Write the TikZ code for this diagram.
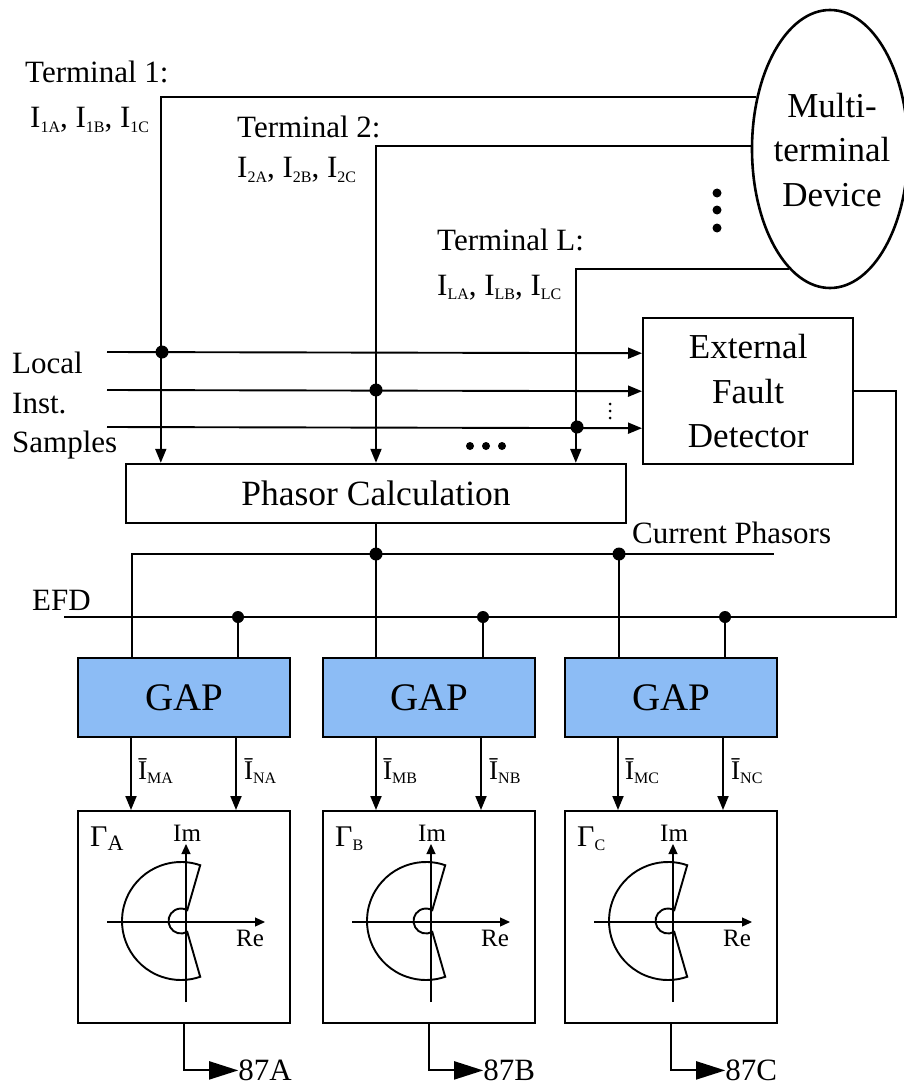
\documentclass[tikz,border=0pt]{standalone}
\usepackage{fontspec}
\setmainfont{Liberation Serif}
\usetikzlibrary{arrows.meta,shapes.geometric,calc}
\definecolor{gapblue}{RGB}{140,188,245}
\newcommand\sbs[1]{\raisebox{-0.3ex}{\fontsize{16}{16}\selectfont #1}}
\begin{document}
\begin{tikzpicture}[x=1pt,y=1pt,
  ln/.style={line width=1.9pt},
  arr/.style={ln,-{Triangle[length=14pt,width=11pt]}},
  bigarr/.style={ln,-{Triangle[length=29pt,width=18pt]}},
  axarr/.style={line width=1.2pt,-{Triangle[length=10pt,width=9pt]}},
  box/.style={draw,line width=2.4pt,inner sep=0pt},
  gapbox/.style={box,fill=gapblue,minimum width=212pt,minimum height=79pt,anchor=north west,font=\fontsize{39}{44}\selectfont},
  gambox/.style={box,minimum width=212pt,minimum height=212pt,anchor=north west},
  dot/.style={circle,fill,inner sep=0pt,minimum size=13pt},
  sdot/.style={circle,fill,inner sep=0pt,minimum size=9pt},
  tdot/.style={circle,fill,inner sep=0pt,minimum size=3pt},
  lbl/.style={inner sep=0pt,anchor=base west,font=\fontsize{31}{37}\selectfont},
  blbl/.style={inner sep=0pt,anchor=base west,font=\fontsize{27}{30}\selectfont},
  albl/.style={inner sep=0pt,anchor=base west,font=\fontsize{25}{30}\selectfont},
  glbl/.style={inner sep=0pt,anchor=base west,font=\fontsize{30}{34}\selectfont},
  big/.style={font=\fontsize{35}{44.5}\selectfont,align=center},
]
\useasboundingbox (0,0) rectangle (904,-1086);

% multi-terminal device
\node[draw,ellipse,line width=2.6pt,minimum width=156pt,minimum height=278pt,inner sep=0pt] (dev) at (830,-149) {};
\node[big,inner sep=0pt] (devtxt) at (832,-150) {Multi-\\terminal\\Device};
\node[sdot] (vd1) at (717,-193) {};
\node[sdot] (vd2) at (717,-210) {};
\node[sdot] (vd3) at (717,-228) {};

% terminal labels
\node[lbl] (tl1) at (25,-83) {Terminal 1:};
\node[lbl] (ti1) at (30,-128) {I\sbs{1A}, I\sbs{1B}, I\sbs{1C}};
\node[lbl] (tl2) at (237,-138) {Terminal 2:};
\node[lbl] (ti2) at (237,-178) {I\sbs{2A}, I\sbs{2B}, I\sbs{2C}};
\node[lbl] (tlL) at (437,-250) {Terminal L:};
\node[lbl] (tiL) at (437,-295) {I\sbs{LA}, I\sbs{LB}, I\sbs{LC}};

% boxes
\node[box,minimum width=500pt,minimum height=59pt,font=\fontsize{35.5}{40}\selectfont] (pc) at (376,-493.5) {Phasor Calculation};
\node[box,big,minimum width=210pt,minimum height=146pt,anchor=north west] (efd) at (642,-317) {External\\Fault\\Detector};

% local samples
\node[lbl] (loc1) at (12,-373) {Local};
\node[lbl] (loc2) at (12,-413) {Inst.};
\node[lbl] (loc3) at (12,-452) {Samples};
\coordinate (in1) at (107,-352);
\coordinate (in2) at (107,-390);
\coordinate (in3) at (107,-427);
\draw[arr] (in1) -- ([yshift=38pt]efd.west);
\draw[arr] (in2) -- (efd.west);
\draw[arr] (in3) -- ([yshift=-37pt]efd.west);

% terminal lines
\draw[arr] (dev.145) -| ([xshift=36pt]pc.north west);
\draw[arr] (dev.178.5) -| (pc.north);
\draw[arr] (dev.251.8) -| ([xshift=451pt]pc.north west);
\node[dot] (j1) at (162,-352) {};
\node[dot] (j2) at (376,-390) {};
\node[dot] (j3) at (577,-427) {};
\node[tdot] (s1) at (610,-404) {};
\node[tdot] (s2) at (610,-411) {};
\node[tdot] (s3) at (610,-418) {};
\node[sdot,minimum size=8pt] (h1) at (470,-446) {};
\node[sdot,minimum size=8pt] (h2) at (486,-446) {};
\node[sdot,minimum size=8pt] (h3) at (502,-446) {};

% GAP boxes
\node[gapbox] (gapA) at (77,-657) {GAP};
\node[gapbox] (gapB) at (322,-657) {GAP};
\node[gapbox] (gapC) at (564,-657) {GAP};

% current phasor bus
\coordinate (cpE) at (774,-554);
\node[lbl] (cptxt) at (632,-543) {Current Phasors};
\draw[ln] ([xshift=55pt]gapA.north west) |- (cpE);
\draw[ln] (pc.south) -- (pc.south |- gapB.north);
\draw[ln] ([xshift=55pt]gapC.north west) -- ++(0,103);
\node[dot] (bj1) at (376,-554) {};
\node[dot] (bj2) at (619,-554) {};

% EFD line
\coordinate (efdC) at (896,-617);
\coordinate (efdL) at (64,-617);
\node[lbl] (efdtxt) at (32,-610) {EFD};
\draw[ln] (efd.east) -| (efdC) -- (efdL);
\foreach \g in {A,B,C}{
  \draw[ln] ([xshift=161pt]gap\g.north west) -- ++(0,40);
  \node[dot,minimum size=12pt] (ej\g) at ([xshift=161pt,yshift=40pt]gap\g.north west) {};
}

% Gamma boxes
\node[gambox] (gamA) at (77,-810) {};
\node[gambox] (gamB) at (322,-810) {};
\node[gambox] (gamC) at (564,-810) {};

\foreach \g/\s/\f in {A/A/22,B/B/16,C/C/16}{
  \draw[arr] ([xshift=54pt]gap\g.south west) -- ([xshift=54pt]gam\g.north west);
  \draw[arr] ([xshift=159pt]gap\g.south west) -- ([xshift=159pt]gam\g.north west);
  \node[blbl] (lm\g) at ([xshift=61pt,yshift=-41pt]gap\g.south west) {\=I\sbs{M\g}};
  \node[blbl] (ln\g) at ([xshift=167pt,yshift=-41pt]gap\g.south west) {\=I\sbs{N\g}};
  \node[glbl] (gl\g) at ([xshift=13pt,yshift=-36pt]gam\g.north west) {Γ\raisebox{-4pt}{\fontsize{\f}{\f}\selectfont \s}};
  \node[albl] (im\g) at ([xshift=96pt,yshift=-31pt]gam\g.north west) {Im};
  \node[albl] (re\g) at ([xshift=159pt,yshift=-136pt]gam\g.north west) {Re};
  \coordinate (o\g) at ([xshift=109pt,yshift=-112pt]gam\g.north west);
  \coordinate (c\g) at ([xshift=104pt,yshift=-111pt]gam\g.north west);
  \draw[axarr] ([yshift=-80pt]o\g) -- ([yshift=78pt]o\g);
  \draw[axarr] ([xshift=-79pt]o\g) -- ([xshift=79pt]o\g);
  \draw[ln] ($(c\g)+(71:59)$) arc[start angle=71,end angle=289,radius=59]
     -- ($(c\g)+(300:12.5)$) arc[start angle=300,end angle=60,radius=12.5] -- cycle;
  \node[lbl] (out\g) at ([xshift=54pt,yshift=-56pt]gam\g.south) {87\g};
  \draw[bigarr] (gam\g.south) |- ([yshift=10pt]out\g.base west);
}
\end{tikzpicture}
\end{document}
